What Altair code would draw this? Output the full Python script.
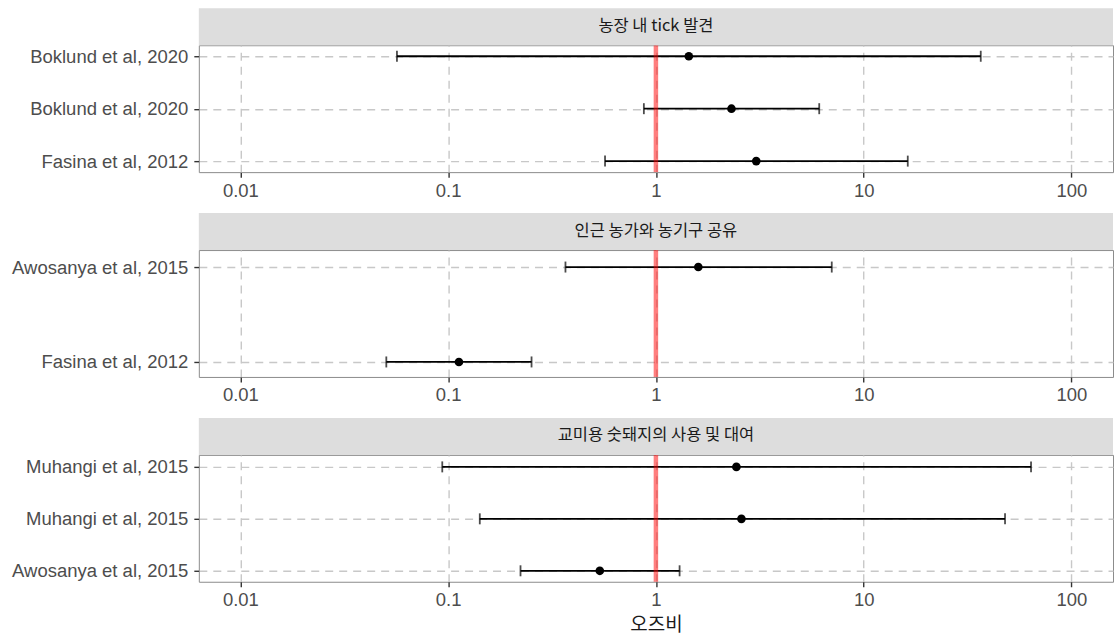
import json

import altair as alt
import pandas as pd

# Forest plot of odds ratios (95% CI) for three ASF risk factors
panel_titles = ["농장 내 tick 발견", "인근 농가와 농기구 공유", "교미용 숫돼지의 사용 및 대여"]

studies_1 = ["Boklund et al, 2020", "Boklund et al, 2020", "Fasina et al, 2012"]
or_1 = [1.44, 2.31, 3.04]
lo_1 = [0.0567, 0.875, 0.569]
hi_1 = [36.6, 6.11, 16.3]

studies_2 = ["Awosanya et al, 2015", "Fasina et al, 2012"]
or_2 = [1.60, 0.1127]
lo_2 = [0.367, 0.0504]
hi_2 = [7.02, 0.252]

studies_3 = ["Muhangi et al, 2015", "Muhangi et al, 2015", "Awosanya et al, 2015"]
or_3 = [2.44, 2.58, 0.537]
lo_3 = [0.0937, 0.142, 0.223]
hi_3 = [63.9, 47.9, 1.30]

x_ticks = [0.01, 0.1, 1, 10, 100]
null_or = [1]

W, H, STRIP = 915, 127, 37
LABEL_FONT = "Liberation Sans"
KR_FONT = "Noto Sans CJK KR"

x_scale = alt.Scale(type="log", domain=[10 ** -2.2, 10 ** 2.2], nice=False)


def panel(title, studies, orv, lo, hi, y_pad, show_title):
    n = len(studies)
    df = pd.DataFrame({"row": list(range(1, n + 1)), "study": studies,
                       "or": orv, "lo": lo, "hi": hi})
    y_scale = alt.Scale(domain=[1 - y_pad[0], n + y_pad[1]], reverse=True,
                        nice=False, zero=False)
    y_axis = alt.Axis(values=list(range(1, n + 1)),
                      labelExpr=json.dumps(studies) + "[datum.value - 1]")
    x_axis = alt.Axis(values=x_ticks, format="~g")
    x_title = "오즈비" if show_title else None

    def X(field):
        return alt.X(field, scale=x_scale, axis=x_axis, title=x_title)

    def Y():
        return alt.Y("row:Q", scale=y_scale, axis=y_axis, title=None)

    base = alt.Chart(df)

    bars = base.mark_rule(color="black", strokeWidth=1.8).encode(
        x=X("lo:Q"), x2="hi:Q", y=Y()
    )
    caps = base.transform_fold(["lo", "hi"], as_=["end", "val"]).mark_tick(
        color="black", orient="vertical", size=11, thickness=1.8
    ).encode(x=X("val:Q"), y=Y())
    points = base.mark_circle(color="black", size=75, opacity=1).encode(
        x=X("or:Q"), y=Y()
    )
    ref = alt.Chart(pd.DataFrame({"ref": null_or})).mark_rule(
        color="#FF0000", opacity=0.5, strokeWidth=4.5
    ).encode(x=X("ref:Q"))

    strip_df = pd.DataFrame({"t": [title]})
    strip = alt.Chart(strip_df).mark_rect(fill="#DDDDDD").encode(
        x=alt.value(0), x2=alt.value(W), y=alt.value(-STRIP), y2=alt.value(0)
    )
    strip_text = alt.Chart(strip_df).mark_text(
        font=KR_FONT, fontSize=16.5, color="#1A1A1A", align="center", baseline="middle"
    ).encode(x=alt.value(W / 2), y=alt.value(-STRIP / 2 - 1), text="t:N")

    return alt.layer(bars, ref, caps, points, strip, strip_text).properties(
        width=W, height=H
    )


p1 = panel(panel_titles[0], studies_1, or_1, lo_1, hi_1, (0.21, 0.21), False)
p2 = panel(panel_titles[1], studies_2, or_2, lo_2, hi_2, (0.179, 0.158), False)
p3 = panel(panel_titles[2], studies_3, or_3, lo_3, hi_3, (0.231, 0.211), True)

chart = alt.vconcat(p1, p2, p3, spacing=78, bounds="flush").properties(
    padding={"left": 10, "top": 7, "right": 1, "bottom": 0}
).configure_view(
    stroke="#8C8C8C", strokeWidth=1
).configure_axis(
    domain=False,
    grid=True,
    gridColor="#C8C8C8",
    gridDash=[8, 6],
    gridWidth=1.4,
    tickColor="#333333",
    tickSize=5,
    tickWidth=1.4,
    labelFont=LABEL_FONT,
    labelFontSize=18.5,
    labelColor="#4D4D4D",
    labelPadding=4,
    titleFont=KR_FONT,
    titleFontSize=19,
    titleFontWeight="normal",
    titleColor="#1A1A1A",
    titlePadding=6,
).configure_axisY(
    labelPadding=6
)

chart.save("out.html", embed_options={"renderer": "svg", "actions": False})
